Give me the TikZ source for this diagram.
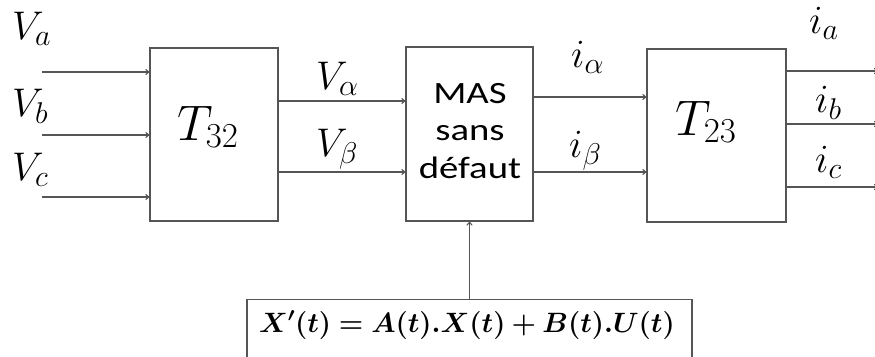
\RequirePackage{fix-cm}
\documentclass[tikz,border=0pt]{standalone}
\usepackage{fontspec}
\usepackage{bm}
\newfontfamily\masfont[FakeStretch=1.25]{Carlito}
\DeclareMathSizes{40}{40}{30}{22}
\DeclareMathSizes{50}{50}{35}{25}
\usetikzlibrary{arrows.meta}
\definecolor{linec}{RGB}{85,85,85}
\tikzset{
  blk/.style={draw=linec, line width=1.3pt, inner sep=0pt},
  arr/.style={draw=linec, line width=1.1pt, -{To[length=4pt,width=6pt]}},
  lbl/.style={inner sep=0pt, font=\fontsize{40}{48}\selectfont},
  big/.style={inner sep=0pt, font=\fontsize{50}{60}\selectfont},
}
\begin{document}
\begin{tikzpicture}[x=1pt,y=-1pt]
\useasboundingbox (0,0) rectangle (875,356);
\clip (0,0) rectangle (875,356);
% blocks
\node[blk, minimum width=128pt, minimum height=173pt] (t32) at (214,134.5) {};
\node[blk, minimum width=127pt, minimum height=174pt] (mas) at (469.5,134) {};
\node[blk, minimum width=139pt, minimum height=173pt] (t23) at (716.5,135.5) {};
\node[blk, minimum width=445pt, minimum height=70pt, anchor=north] (eq) at (469.5,299) {};
% block texts
\node[big, anchor=base west] (t32t) at (177,140) {$T_{32}$};
\node[big, anchor=base west] (t23t) at (675,135) {$T_{23}$};
\node[inner sep=0pt, align=center, anchor=base, font=\masfont\fontsize{31}{37.5}\selectfont] (mast) at (470,178) {MAS\\sans\\défaut};
\node[inner sep=0pt, anchor=base, font=\fontsize{28}{34}\selectfont] (eqt) at (467,332) {$\bm{X'(t) = A(t).X(t) + B(t).U(t)}$};
% inputs
\coordinate (ina) at (42,72);
\coordinate (inb) at (42,135);
\coordinate (inc) at (42,197);
\draw[arr] (ina) -- (ina -| t32.west);
\draw[arr] (inb) -- (inb -| t32.west);
\draw[arr] (inc) -- (inc -| t32.west);
\node[lbl, anchor=base west] (va) at (12,39) {$V_a$};
\node[lbl, anchor=base west] (vb) at (12,116) {$V_b$};
\node[lbl, anchor=base west] (vc) at (12,180) {$V_c$};
% alpha beta voltages
\coordinate (yva) at (0,101);
\coordinate (yvb) at (0,172);
\draw[arr] (t32.east |- yva) -- (mas.west |- yva);
\draw[arr] (t32.east |- yvb) -- (mas.west |- yvb);
\node[lbl, anchor=base west] (valpha) at (316,89) {$V_\alpha$};
\node[lbl, anchor=base west] (vbeta) at (316,156) {$V_\beta$};
% alpha beta currents
\coordinate (yia) at (0,97);
\coordinate (yib) at (0,172);
\draw[arr] (mas.east |- yia) -- (t23.west |- yia);
\draw[arr] (mas.east |- yib) -- (t23.west |- yib);
\node[lbl, anchor=base west] (ialpha) at (571,67) {$i_\alpha$};
\node[lbl, anchor=base west] (ibeta) at (569,157) {$i_\beta$};
% outputs
\coordinate (oa) at (878,71);
\coordinate (ob) at (878,124);
\coordinate (oc) at (878,187);
\draw[arr] (t23.east |- oa) -- (oa);
\draw[arr] (t23.east |- ob) -- (ob);
\draw[arr] (t23.east |- oc) -- (oc);
\node[lbl, anchor=base west] (ia) at (809,33) {$i_a$};
\node[lbl, anchor=base west] (ib) at (815,112) {$i_b$};
\node[lbl, anchor=base west] (ic) at (815,172) {$i_c$};
% state equation to machine
\draw[arr] (eq.north) -- (mas.south);
\end{tikzpicture}
\end{document}
